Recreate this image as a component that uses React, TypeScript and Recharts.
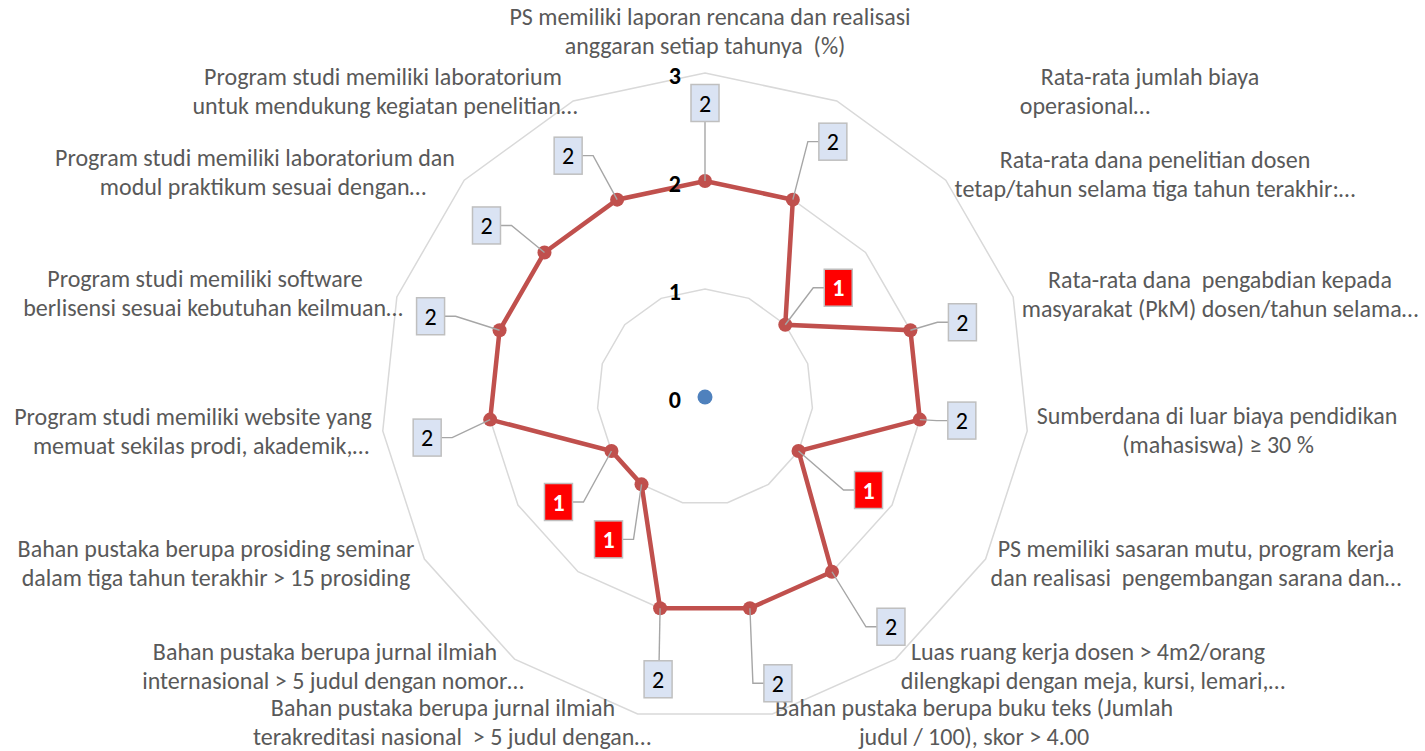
import { RadarChart, Radar, PolarGrid, PolarAngleAxis, PolarRadiusAxis } from 'recharts'

// kriteria (dua baris seperti label Excel)
const CATEGORY_LINES: string[][] = [
  ['PS memiliki laporan rencana dan realisasi', 'anggaran setiap tahunya  (%)'],
  ['Rata-rata jumlah biaya', 'operasional…'],
  ['Rata-rata dana penelitian dosen', 'tetap/tahun selama tiga tahun terakhir:…'],
  ['Rata-rata dana  pengabdian kepada', 'masyarakat (PkM) dosen/tahun selama…'],
  ['Sumberdana di luar biaya pendidikan', '(mahasiswa) ≥ 30 %'],
  ['PS memiliki sasaran mutu, program kerja', 'dan realisasi  pengembangan sarana dan…'],
  ['Luas ruang kerja dosen > 4m2/orang', 'dilengkapi dengan meja, kursi, lemari,…'],
  ['Bahan pustaka berupa buku teks (Jumlah', 'judul / 100), skor > 4.00'],
  ['Bahan pustaka berupa jurnal ilmiah', 'terakreditasi nasional  > 5 judul dengan…'],
  ['Bahan pustaka berupa jurnal ilmiah', 'internasional > 5 judul dengan nomor…'],
  ['Bahan pustaka berupa prosiding seminar', 'dalam tiga tahun terakhir > 15 prosiding'],
  ['Program studi memiliki website yang', 'memuat sekilas prodi, akademik,…'],
  ['Program studi memiliki software', 'berlisensi sesuai kebutuhan keilmuan…'],
  ['Program studi memiliki laboratorium dan', 'modul praktikum sesuai dengan…'],
  ['Program studi memiliki laboratorium', 'untuk mendukung kegiatan penelitian…'],
]

const SCORES = [2, 2, 1, 2, 2, 1, 2, 2, 2, 1, 1, 2, 2, 2, 2]
const TARGET = [0, 0, 0, 0, 0, 0, 0, 0, 0, 0, 0, 0, 0, 0, 0]
const RADIUS_TICKS = [0, 1, 2, 3]

// label placement (center x of each line, y of first line), copied from the sheet layout
const LABEL_LAYOUT: [number, number, number][] = [
  [710, 705, 17],
  [1150, 1085, 77],
  [1155, 1155, 160],
  [1220, 1220, 280],
  [1217, 1218, 416],
  [1196, 1196, 549],
  [1088, 1093, 652],
  [974, 974, 708],
  [443, 452, 708],
  [325, 333, 652],
  [216, 216, 549],
  [193, 201, 417],
  [205, 213, 279],
  [255, 263, 158],
  [383, 385, 77],
]

// data label box offset from its point
const LABEL_NUDGE: [number, number][] = [
  [0, -78], [40, -58], [53, -37], [52, -8], [42, 1],
  [70, 39], [59, 55], [28, 75], [-2, 71], [-33, 55],
  [-53, 51], [-63, 18], [-69, -14], [-58, -27], [-49, -44],
]

const FONT = 'Carlito, Calibri, Lato, sans-serif'
const RED = '#C0504D'

const data = CATEGORY_LINES.map((lines, i) => ({
  name: lines.join(' '),
  skor: SCORES[i],
  target: TARGET[i],
}))

function AngleTick(props: any) {
  const i = props.index
  const lines = CATEGORY_LINES[i]
  const [x1, x2, y] = LABEL_LAYOUT[i]
  return (
    <g>
      {lines.map((line, k) => (
        <text
          key={k}
          x={k === 0 ? x1 : x2}
          y={y + k * 29 + 8}
          textAnchor="middle"
          fill="#595959"
          fontSize={24}
          fontFamily={FONT}
          style={{ whiteSpace: 'pre' }}
        >
          {line}
        </text>
      ))}
    </g>
  )
}

function RadiusTick(props: any) {
  const { x, y, payload } = props
  return (
    <text x={x - 24} y={y + 11} textAnchor="end" fontSize={24} fontWeight="bold" fill="#000" fontFamily={FONT}>
      {payload.value}
    </text>
  )
}

function ScoreDot(props: any) {
  const { cx, cy, index } = props
  const value = SCORES[index]
  const [dx, dy] = LABEL_NUDGE[index]
  const bx = cx + dx
  const by = cy + dy
  const hw = 14
  const hh = 18.5
  let pts: string
  if (Math.abs(dx) <= hw) {
    const ey = dy < 0 ? by + hh : by - hh
    pts = `${cx},${cy} ${cx + dx / 2},${ey}`
  } else {
    const s = dx > 0 ? 1 : -1
    const ex = bx - s * hw
    pts = `${cx},${cy} ${ex - s * 11},${by} ${ex},${by}`
  }
  const low = value < 2
  return (
    <g key={`dot-${index}`}>
      <circle cx={cx} cy={cy} r={7} fill={RED} />
      <polyline points={pts} fill="none" stroke="#a6a6a6" strokeWidth={1.4} />
      <rect
        x={bx - hw}
        y={by - hh}
        width={hw * 2}
        height={hh * 2}
        fill={low ? '#FF0000' : '#DAE3F3'}
        stroke="#BFBFBF"
        strokeWidth={1.5}
      />
      <text
        x={bx}
        y={by + 8.5}
        textAnchor="middle"
        fontSize={24}
        fontWeight={low ? 'bold' : 'normal'}
        fill={low ? '#fff' : '#000'}
        fontFamily={FONT}
      >
        {value}
      </text>
    </g>
  )
}

function TargetDot(props: any) {
  const { cx, cy, index } = props
  if (index !== 0) return <g key={`t-${index}`} />
  return <circle key={`t-${index}`} cx={cx} cy={cy} r={7.5} fill="#4F81BD" />
}

export default function App() {
  return (
    <div style={{ position: 'absolute', left: 0, top: 0, width: 1425, height: 751, background: '#fff' }}>
      <RadarChart
        width={1425}
        height={751}
        cx={705}
        cy={397}
        outerRadius={324}
        margin={{ top: 0, right: 0, bottom: 0, left: 0 }}
        data={data}
      >
        <PolarGrid gridType="polygon" radialLines={false} stroke="#D9D9D9" strokeWidth={1.5} />
        <PolarAngleAxis dataKey="name" tick={AngleTick} tickLine={false} axisLine={false} />
        <PolarRadiusAxis
          angle={90}
          domain={[0, 3]}
          ticks={RADIUS_TICKS}
          tick={RadiusTick}
          axisLine={false}
          tickLine={false}
        />
        <Radar
          dataKey="target"
          stroke="none"
          fill="none"
          dot={TargetDot}
          isAnimationActive={false}
        />
        <Radar
          dataKey="skor"
          stroke={RED}
          strokeWidth={4.5}
          fill="none"
          dot={ScoreDot}
          isAnimationActive={false}
        />
      </RadarChart>
    </div>
  )
}
